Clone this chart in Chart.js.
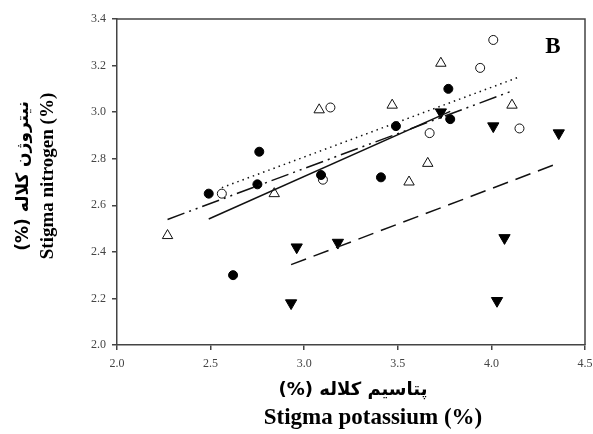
<!DOCTYPE html>
<html>
<head>
<meta charset="utf-8">
<script src="https://cdn.jsdelivr.net/npm/chart.js@4"></script>
<style>
  html, body { margin: 0; padding: 0; background: #fff; }
  #wrap { width: 593px; height: 434px; }
</style>
</head>
<body>
<div id="wrap"><canvas id="nkChart"></canvas></div>
<script>
// stigma potassium (%) vs stigma nitrogen (%), four groups
var filledK = [2.49, 2.75, 2.76, 2.62, 3.09, 3.41, 3.49, 3.77, 3.78];
var filledN = [2.65, 2.69, 2.83, 2.30, 2.73, 2.72, 2.94, 3.10, 2.97];

var openCircK = [2.56, 3.10, 3.14, 3.67, 3.94, 4.01, 4.15];
var openCircN = [2.65, 2.71, 3.02, 2.91, 3.19, 3.31, 2.93];

var openTriK = [2.27, 2.84, 3.08, 3.47, 3.56, 3.66, 3.73, 4.11];
var openTriN = [2.47, 2.65, 3.01, 3.03, 2.70, 2.78, 3.21, 3.03];

var downTriK = [2.93, 2.96, 3.18, 3.73, 4.01, 4.03, 4.07, 4.36];
var downTriN = [2.18, 2.42, 2.44, 3.00, 2.94, 2.19, 2.46, 2.91];

var xTicks = [2.0, 2.5, 3.0, 3.5, 4.0, 4.5];
var yTicks = [2.0, 2.2, 2.4, 2.6, 2.8, 3.0, 3.2, 3.4];

function toPoints(xs, ys) {
    return xs.map(function (x, i) { return { x: x, y: ys[i] }; });
}

// least squares line across the group's x range
function fitLine(xs, ys) {
    var n = xs.length, mx = 0, my = 0;
    for (var i = 0; i < n; i++) { mx += xs[i]; my += ys[i]; }
    mx /= n; my /= n;
    var sxy = 0, sxx = 0;
    for (var j = 0; j < n; j++) {
        sxy += (xs[j] - mx) * (ys[j] - my);
        sxx += (xs[j] - mx) * (xs[j] - mx);
    }
    var b = sxy / sxx, a = my - b * mx;
    var lo = Math.min.apply(null, xs), hi = Math.max.apply(null, xs);
    return [{ x: lo, y: a + b * lo }, { x: hi, y: a + b * hi }];
}

function lineSet(xs, ys, dash) {
    return {
        type: 'line',
        data: fitLine(xs, ys),
        borderColor: '#111',
        borderWidth: 1.5,
        borderDash: dash,
        pointRadius: 0,
        fill: false
    };
}

var serif = '"Liberation Serif", "Times New Roman", "DejaVu Sans", serif';

var labelsPlugin = {
    id: 'labelsPlugin',
    afterDraw: function (chart) {
        var ctx = chart.ctx, ca = chart.chartArea;
        ctx.save();
        // frame top and right
        ctx.strokeStyle = '#444';
        ctx.lineWidth = 1.5;
        ctx.beginPath();
        ctx.moveTo(ca.left, ca.top);
        ctx.lineTo(ca.right, ca.top);
        ctx.lineTo(ca.right, ca.bottom);
        ctx.stroke();

        ctx.fillStyle = '#000';
        ctx.textAlign = 'center';
        ctx.textBaseline = 'middle';
        ctx.font = 'bold 23px ' + serif;
        ctx.fillText('B', 553, 47);

        // x titles
        ctx.direction = 'rtl';
        ctx.font = 'bold 18px "DejaVu Sans", sans-serif';
        ctx.fillText('پتاسیم کلاله (%)', 353, 390);
        ctx.direction = 'ltr';
        ctx.font = 'bold 23px ' + serif;
        ctx.fillText('Stigma potassium (%)', 373, 418);

        // y titles
        ctx.translate(0, 176);
        ctx.rotate(-Math.PI / 2);
        ctx.direction = 'rtl';
        ctx.font = 'bold 17px "DejaVu Sans", sans-serif';
        ctx.fillText('نیتروژن کلاله (%)', 0, 24);
        ctx.direction = 'ltr';
        ctx.font = 'bold 19px ' + serif;
        ctx.fillText('Stigma nitrogen (%)', 0, 48);
        ctx.restore();
    }
};

document.addEventListener('DOMContentLoaded', function () {
    var ctx = document.getElementById('nkChart').getContext('2d');
    var nkChart = new Chart(ctx, {
        type: 'scatter',
        data: {
            datasets: [
                lineSet(filledK, filledN, []),
                lineSet(openCircK, openCircN, [1.5, 4]),
                lineSet(openTriK, openTriN, [18, 5, 2, 5, 2, 5]),
                lineSet(downTriK, downTriN, [16, 8]),
                {
                    data: toPoints(filledK, filledN),
                    pointStyle: 'circle',
                    pointRadius: 4.5,
                    backgroundColor: '#000',
                    borderColor: '#000',
                    borderWidth: 1
                },
                {
                    data: toPoints(openCircK, openCircN),
                    pointStyle: 'circle',
                    pointRadius: 4.5,
                    backgroundColor: '#fff',
                    borderColor: '#111',
                    borderWidth: 1
                },
                {
                    data: toPoints(openTriK, openTriN),
                    pointStyle: 'triangle',
                    pointRadius: 6,
                    backgroundColor: '#fff',
                    borderColor: '#111',
                    borderWidth: 1
                },
                {
                    data: toPoints(downTriK, downTriN),
                    pointStyle: 'triangle',
                    rotation: 180,
                    pointRadius: 6.5,
                    backgroundColor: '#000',
                    borderColor: '#000',
                    borderWidth: 1
                }
            ]
        },
        options: {
            responsive: true,
            maintainAspectRatio: false,
            animation: false,
            layout: { padding: { left: 0, right: 8, top: 19, bottom: 0 } },
            plugins: {
                legend: { display: false },
                tooltip: { enabled: false }
            },
            scales: {
                x: {
                    type: 'linear',
                    min: 2.0,
                    max: 4.5,
                    afterFit: function (scale) {
                        scale.height = 89;
                        scale.paddingLeft = 0;
                        scale.paddingRight = 0;
                    },
                    afterBuildTicks: function (scale) {
                        scale.ticks = xTicks.map(function (v) { return { value: v }; });
                    },
                    ticks: {
                        callback: function (v) { return v.toFixed(1); },
                        font: { family: serif, size: 12 },
                        color: '#444',
                        padding: 7
                    },
                    grid: { drawOnChartArea: false, drawTicks: true, tickLength: 5, color: '#444', lineWidth: 1.5 },
                    border: { color: '#444', width: 1.5 }
                },
                y: {
                    type: 'linear',
                    min: 2.0,
                    max: 3.4,
                    afterFit: function (scale) {
                        scale.width = 117;
                        scale.paddingTop = 0;
                        scale.paddingBottom = 0;
                    },
                    afterBuildTicks: function (scale) {
                        scale.ticks = yTicks.map(function (v) { return { value: v }; });
                    },
                    ticks: {
                        callback: function (v) { return v.toFixed(1); },
                        font: { family: serif, size: 12 },
                        color: '#444',
                        padding: 6
                    },
                    grid: { drawOnChartArea: false, drawTicks: true, tickLength: 5, color: '#444', lineWidth: 1.5 },
                    border: { color: '#444', width: 1.5 }
                }
            }
        },
        plugins: [labelsPlugin]
    });
});
</script>
</body>
</html>
